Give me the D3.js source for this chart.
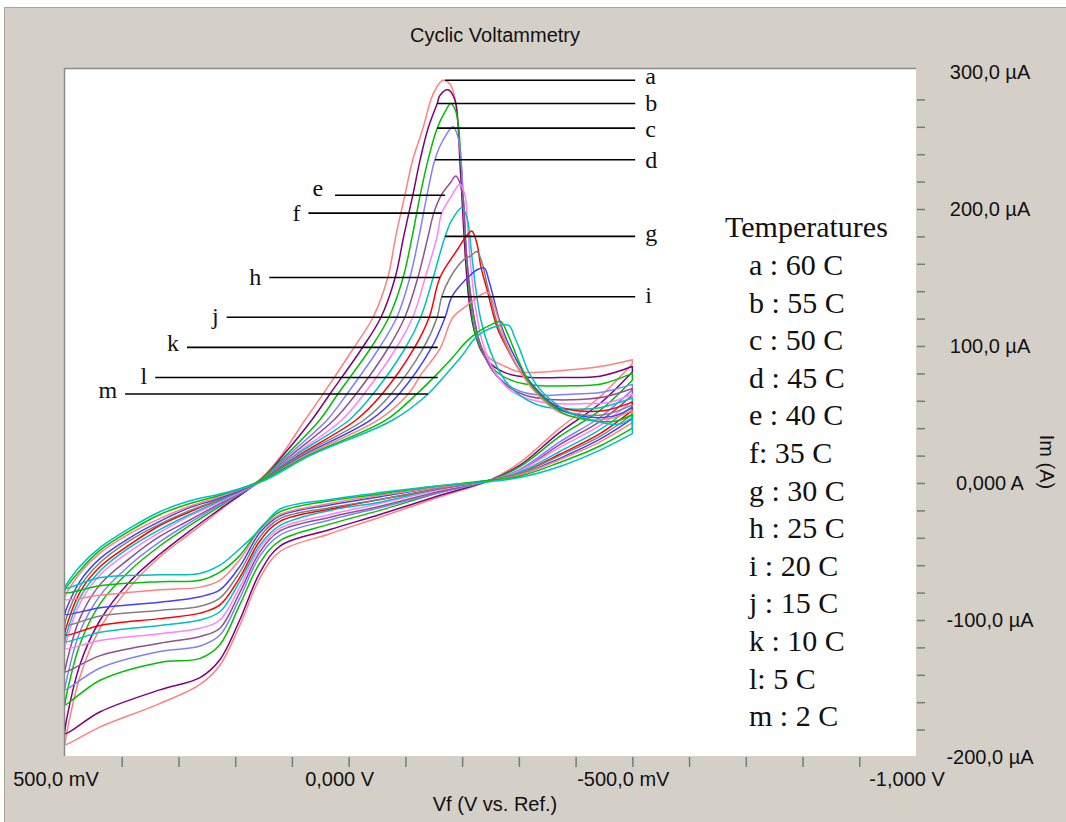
<!DOCTYPE html>
<html>
<head>
<meta charset="utf-8">
<script src="https://cdn.jsdelivr.net/npm/d3@7"></script>
<style>
body { margin: 0; background: #fff; }
text { font-family: "Liberation Sans", Arial, sans-serif; }
.serif { font-family: "Liberation Serif", "Times New Roman", serif; }
</style>
</head>
<body>
<script>
var width = 1066,
    height = 822;

// curve names and temperatures
var letters = ['a','b','c','d','e','f','g','h','i','j','k','l','m'];
var temperatures = [60, 55, 50, 45, 40, 35, 30, 25, 20, 15, 10, 5, 2];
var legendRows = ['a : 60 C','b : 55 C','c : 50 C','d : 45 C','e : 40 C','f: 35 C','g : 30 C',
                  'h : 25 C','i : 20 C','j : 15 C','k : 10 C','l: 5 C','m : 2 C'];
var colors = ['#ff8080','#800080','#00c000','#8080ff','#905090','#ff80ff','#00c0c0',
              '#ff0000','#808080','#4040ff','#ff8080','#00c000','#00c0c0'];

// axis labels
var xTicks = [500, 0, -500, -1000];
var xTickLabels = ['500,0 mV', '0,000 V', '-500,0 mV', '-1,000 V'];
var yTicks = [300, 200, 100, 0, -100, -200];
var yTickLabels = ['300,0 µA', '200,0 µA', '100,0 µA', '0,000 A', '-100,0 µA', '-200,0 µA'];

// upper branch, [potential mV, current µA], from -500 mV to +500 mV
var upperA = [[-500,90],[-443,85],[-372,82],[-302,81],[-276,85],[-249,91],[-231,101],[-221,112],[-212,134],[-205,170],[-200,207],[-196,236],[-193,261],[-187,281],[-179,291],[-166,294],[-154,288],[-145,280],[-131,259],[-113,236],[-99,210],[-83,180],[-69,150],[-43,121],[-8,98],[45,65],[77,46],[119,20],[153,4],[227,-20],[280,-37],[333,-54],[386,-76],[438,-106],[474,-142],[500,-190]];
var upperB = [[-500,85],[-443,78],[-372,77],[-320,77],[-279,80],[-253,86],[-233,97],[-221,112],[-212,134],[-205,170],[-200,207],[-196,236],[-193,261],[-187,280],[-175,287],[-161,283],[-156,277],[-140,259],[-126,236],[-113,210],[-97,180],[-82,150],[-57,121],[-23,98],[33,65],[65,46],[116,20],[153,3],[227,-19],[280,-35],[333,-52],[386,-72],[438,-100],[474,-133],[500,-180]];
var upperC = [[-500,80],[-443,72],[-390,71],[-337,71],[-293,74],[-261,81],[-239,93],[-224,108],[-214,134],[-207,170],[-202,207],[-198,236],[-194,258],[-189,271],[-180,277],[-170,271],[-156,259],[-140,236],[-126,210],[-112,180],[-96,150],[-71,121],[-38,98],[19,65],[51,46],[111,20],[153,3],[227,-17],[280,-31],[333,-46],[386,-64],[438,-88],[474,-118],[500,-161]];
var upperD = [[-500,72],[-443,66],[-399,65],[-346,64],[-302,67],[-270,75],[-246,88],[-228,106],[-216,134],[-207,170],[-202,207],[-198,236],[-193,252],[-184,260],[-166,250],[-152,236],[-138,210],[-124,180],[-108,150],[-85,121],[-53,98],[3,65],[38,46],[107,20],[153,2],[227,-16],[280,-29],[333,-43],[386,-60],[438,-82],[474,-109],[500,-150]];
var upperE = [[-500,69],[-452,63],[-408,61],[-355,61],[-311,64],[-276,72],[-249,85],[-230,104],[-216,134],[-207,170],[-202,207],[-196,219],[-189,224],[-179,219],[-163,210],[-150,197],[-140,180],[-122,150],[-99,121],[-69,98],[-13,65],[26,46],[102,20],[153,2],[227,-15],[280,-27],[333,-39],[386,-55],[438,-74],[474,-99],[500,-137]];
var upperF = [[-500,65],[-461,59],[-417,58],[-364,58],[-320,61],[-284,68],[-256,82],[-235,104],[-223,130],[-216,155],[-210,185],[-205,210],[-196,218],[-182,210],[-164,197],[-156,180],[-135,150],[-113,121],[-83,98],[-27,65],[12,46],[98,20],[153,2],[227,-14],[280,-24],[333,-36],[386,-50],[438,-67],[474,-88],[500,-120]];
var upperG = [[-500,62],[-443,55],[-390,54],[-341,56],[-302,64],[-272,77],[-249,97],[-233,119],[-223,145],[-216,170],[-209,193],[-200,201],[-182,192],[-170,180],[-149,150],[-127,121],[-99,98],[-43,65],[-1,46],[95,20],[153,2],[227,-13],[280,-23],[333,-34],[386,-47],[438,-64],[474,-84],[500,-115]];
var upperH = [[-500,59],[-452,53],[-399,53],[-358,58],[-327,70],[-302,82],[-281,97],[-263,112],[-253,126],[-244,141],[-233,158],[-226,175],[-217,184],[-207,180],[-191,170],[-161,150],[-142,121],[-115,98],[-59,65],[-13,46],[89,20],[153,2],[227,-12],[280,-21],[333,-31],[386,-45],[438,-61],[474,-80],[500,-109]];
var upperI = [[-500,57],[-452,50],[-394,51],[-351,58],[-320,72],[-295,86],[-277,101],[-263,115],[-253,130],[-244,145],[-235,161],[-226,169],[-216,166],[-203,163],[-179,150],[-164,136],[-156,121],[-131,98],[-75,65],[-27,46],[86,20],[153,2],[227,-12],[280,-20],[333,-30],[386,-42],[438,-58],[474,-76],[500,-102]];
var upperJ = [[-500,55],[-469,49],[-425,48],[-376,53],[-341,64],[-314,77],[-293,92],[-277,106],[-265,120],[-256,134],[-247,148],[-239,157],[-228,156],[-205,148],[-182,136],[-170,121],[-145,98],[-89,65],[-39,46],[81,20],[153,2],[227,-11],[280,-18],[333,-28],[386,-40],[438,-55],[474,-72],[500,-95]];
var upperK = [[-500,53],[-461,47],[-408,47],[-365,53],[-334,64],[-309,77],[-290,91],[-276,104],[-265,118],[-256,130],[-246,139],[-231,137],[-210,130],[-184,121],[-161,98],[-129,80],[-105,65],[-52,46],[77,20],[153,2],[227,-10],[280,-17],[333,-26],[386,-37],[438,-51],[474,-66],[500,-83]];
var upperL = [[-500,50],[-469,45],[-422,46],[-378,51],[-346,61],[-321,72],[-304,85],[-290,99],[-279,110],[-268,118],[-253,116],[-231,111],[-207,103],[-182,91],[-157,80],[-120,65],[-66,46],[72,20],[153,2],[227,-9],[280,-15],[333,-23],[386,-35],[438,-49],[474,-64],[500,-78]];
var upperM = [[-500,48],[-478,43],[-434,45],[-387,52],[-355,61],[-332,71],[-316,82],[-304,95],[-293,106],[-282,115],[-258,114],[-226,107],[-200,93],[-173,80],[-140,65],[-78,46],[68,20],[153,1],[227,-8],[280,-13],[333,-21],[386,-33],[438,-47],[474,-61],[500,-76]];

// lower branch, currents (µA) at shared potentials going from +500 mV back to -500 mV
var lowerPotential = [500, 438, 333, 262, 227, 192, 156, 121, 33, -55, -161, -249, -302, -372, -443, -500];
var lowerA = [-191,-178,-161,-147,-133,-104,-69,-50,-37,-25,-10,2,15,40,63,87];
var lowerB = [-183,-167,-151,-142,-129,-100,-65,-46,-34,-23,-9,2,13,37,58,81];
var lowerC = [-162,-144,-131,-128,-118,-89,-58,-42,-30,-20,-7,2,12,34,53,75];
var lowerD = [-151,-135,-123,-119,-111,-84,-53,-38,-27,-18,-7,2,10,30,48,68];
var lowerE = [-138,-126,-117,-112,-106,-80,-50,-35,-25,-17,-6,2,9,28,45,64];
var lowerF = [-121,-115,-110,-106,-100,-76,-47,-33,-23,-15,-5,2,9,26,42,60];
var lowerG = [-116,-109,-104,-100,-94,-72,-45,-31,-20,-14,-4,2,8,23,39,56];
var lowerH = [-111,-104,-99,-95,-89,-69,-42,-28,-19,-12,-4,2,7,21,36,53];
var lowerI = [-104,-97,-93,-90,-84,-65,-39,-26,-18,-12,-4,2,7,20,34,50];
var lowerJ = [-96,-91,-87,-83,-78,-61,-36,-24,-16,-10,-3,2,6,18,32,47];
var lowerK = [-85,-82,-78,-76,-71,-56,-34,-23,-15,-9,-3,2,6,17,30,44];
var lowerL = [-80,-75,-72,-71,-65,-53,-33,-21,-13,-8,-2,2,5,15,27,40];
var lowerM = [-77,-69,-67,-66,-60,-48,-34,-19,-12,-7,-2,1,4,12,24,36];

// leader lines: current level (µA), end touching the curve and end at the letter (mV)
var leaderCurrent = [294, 277, 259, 236, 210, 197, 180, 150, 136, 121, 99, 77, 65];
var leaderNear = [-170, -156, -156, -152, -170, -164, -170, -161, -164, -170, -157, -157, -140];
var leaderFar = [-505, -505, -505, -505, 24, 71, -505, 140, -505, 215, 285, 341, 394];
var leaderDy = [4, 7.5, 9, 8, 1, 8, 5, 7, 6, 7, 4, 6, 4];

var uppers = [upperA, upperB, upperC, upperD, upperE, upperF, upperG, upperH, upperI, upperJ, upperK, upperL, upperM];
var lowers = [lowerA, lowerB, lowerC, lowerD, lowerE, lowerF, lowerG, lowerH, lowerI, lowerJ, lowerK, lowerL, lowerM];

var x = d3.scaleLinear().domain([500, -1000]).range([65, 916]);
var y = d3.scaleLinear().domain([-200, 300]).range([757, 72]);

var plotTop = 69, plotBottom = 756;

var svg = d3.select('body').append('svg')
    .attr('width', width)
    .attr('height', height);

// window panel
svg.append('rect').attr('x', 0).attr('y', 0).attr('width', width).attr('height', height).attr('fill', '#fff');
svg.append('rect').attr('x', 4).attr('y', 7).attr('width', width - 4).attr('height', height - 7).attr('fill', '#d4d0c8');
svg.append('path').attr('d', 'M4.5,' + height + 'V7.5H' + width)
    .attr('fill', 'none').attr('stroke', '#a8a49c').attr('stroke-width', 1);

// plot area
svg.append('rect')
    .attr('x', x(500)).attr('y', plotTop)
    .attr('width', x(-1000) - x(500)).attr('height', plotBottom - plotTop)
    .attr('fill', '#fff');
svg.append('path')
    .attr('d', 'M' + (x(500) - 0.5) + ',' + plotBottom + 'V' + (plotTop - 0.5) + 'H' + x(-1000))
    .attr('fill', 'none').attr('stroke', '#8a8a8a').attr('stroke-width', 1.5);

svg.append('clipPath').attr('id', 'plotClip')
  .append('rect')
    .attr('x', x(500)).attr('y', plotTop)
    .attr('width', x(-1000) - x(500)).attr('height', plotBottom - plotTop);

// minor ticks
svg.append('g')
    .attr('transform', 'translate(' + (x(-1000) + 1) + ',0)')
    .call(d3.axisRight(y).tickValues(d3.range(-180, 281, 20)).tickSize(8).tickFormat(''));
svg.append('g')
    .attr('transform', 'translate(0,' + (plotBottom + 1) + ')')
    .call(d3.axisBottom(x).tickValues(d3.range(400, -901, -100)).tickSize(10).tickFormat(''));
svg.selectAll('.domain').remove();
svg.selectAll('.tick line').attr('stroke', '#7a7a7a').attr('stroke-width', 1.5);

// tick labels
svg.selectAll('.xlab').data(xTicks).enter().append('text')
    .attr('x', function (d) { return x(d) - 9; })
    .attr('y', 786)
    .attr('text-anchor', 'middle')
    .attr('font-size', 20)
    .attr('fill', '#111')
    .text(function (d, i) { return xTickLabels[i]; });

svg.selectAll('.ylab').data(yTicks).enter().append('text')
    .attr('x', 990)
    .attr('y', function (d) { return y(d) + 7; })
    .attr('text-anchor', 'middle')
    .attr('font-size', 20)
    .attr('fill', '#111')
    .text(function (d, i) { return yTickLabels[i]; });

svg.append('text')
    .attr('x', 495).attr('y', 42)
    .attr('text-anchor', 'middle').attr('font-size', 20).attr('fill', '#111')
    .text('Cyclic Voltammetry');

svg.append('text')
    .attr('x', 495).attr('y', 811)
    .attr('text-anchor', 'middle').attr('font-size', 20).attr('fill', '#111')
    .text('Vf (V vs. Ref.)');

svg.append('text')
    .attr('transform', 'translate(1040,462) rotate(90)')
    .attr('text-anchor', 'middle').attr('font-size', 20).attr('fill', '#111')
    .text('Im (A)');

// curves
var line = d3.line()
    .x(function (d) { return x(d[0]); })
    .y(function (d) { return y(d[1]); })
    .curve(d3.curveCatmullRom.alpha(0.5));

var curves = svg.append('g').attr('clip-path', 'url(#plotClip)');

letters.forEach(function (name, i) {
    var pts = uppers[i].concat(lowerPotential.map(function (v, j) { return [v, lowers[i][j]]; }));
    curves.append('path')
        .attr('d', line(pts) + 'Z')
        .attr('fill', 'none')
        .attr('stroke', colors[i])
        .attr('stroke-width', 1.5)
        .attr('stroke-linejoin', 'round');
});

// leader lines and letters
letters.forEach(function (name, i) {
    var yy = y(leaderCurrent[i]);
    svg.append('line')
        .attr('x1', x(leaderNear[i])).attr('x2', x(leaderFar[i]))
        .attr('y1', yy).attr('y2', yy)
        .attr('stroke', '#000').attr('stroke-width', 1.6);
    var right = leaderFar[i] < leaderNear[i];
    svg.append('text')
        .attr('class', 'serif')
        .attr('x', right ? x(leaderFar[i]) + 10 : x(leaderFar[i]) - (i == 4 ? 12 : 8))
        .attr('y', yy + leaderDy[i])
        .attr('text-anchor', right ? 'start' : 'end')
        .attr('font-size', 24)
        .attr('fill', '#111')
        .text(name);
});

// legend
svg.append('text')
    .attr('class', 'serif')
    .attr('x', 725).attr('y', 237)
    .attr('font-size', 30).attr('fill', '#111')
    .text('Temperatures');

svg.selectAll('.legendRow').data(legendRows).enter().append('text')
    .attr('class', 'serif')
    .attr('x', 749)
    .attr('y', function (d, i) { return 275 + i * 37.6; })
    .attr('font-size', 30).attr('fill', '#111')
    .text(function (d) { return d; });
</script>
</body>
</html>
